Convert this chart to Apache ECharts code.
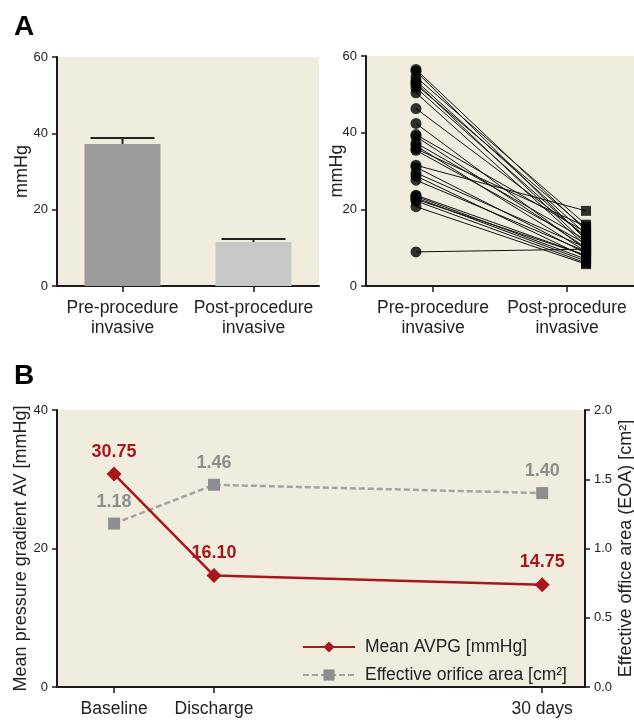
<!DOCTYPE html>
<html>
<head>
<meta charset="utf-8">
<script src="https://cdn.jsdelivr.net/npm/echarts@6/dist/echarts.min.js"></script>
<style>
html,body{margin:0;padding:0;background:#fff;}
#chart{width:634px;height:720px;}
</style>
</head>
<body>
<div id="chart"></div>
<script>
// ---- Panel A (left): bar chart ----
const categoriesA = ['Pre-procedure\ninvasive', 'Post-procedure\ninvasive'];
const barMeans = [37.2, 11.5];
const barErrors = [1.6, 0.8];
const yTicksA = [0, 20, 40, 60];

// ---- Panel A (right): paired values per patient ----
const preValues  = [56.5, 56.0, 54.5, 53.5, 53.0, 52.5, 51.7, 50.4, 46.3, 42.4, 39.5, 39.0, 37.3, 36.6, 35.8, 35.4, 31.5, 31.0, 29.5, 28.7, 27.6, 23.7, 23.4, 23.0, 22.6, 22.2, 20.7, 8.9];
const postValues = [14.5, 12.0, 16.0, 13.5, 11.0, 15.0, 12.5, 10.5, 13.0, 9.5, 14.0, 10.0, 12.0, 9.0, 15.5, 11.0, 19.6, 8.5, 10.0, 7.5, 9.0, 8.0, 7.0, 6.5, 8.0, 6.0, 5.7, 9.6];

// ---- Panel B: time course ----
const timepointDays = [0, 7, 30];
const timepointLabels = ['Baseline', 'Discharge', '30 days'];
const avpgValues = [30.75, 16.10, 14.75];
const eoaValues = [1.18, 1.46, 1.40];
const avpgName = 'Mean AVPG [mmHg]';
const eoaName = 'Effective orifice area [cm²]';

const BG = '#f1edde';
const AX = '#1a1a1a';
const SANS = '"Liberation Sans", Arial, sans-serif';
const RED = '#a9161b';

const axisLineStyle = { show: true, onZero: false, lineStyle: { color: AX, width: 2 } };
const tickStyle = { show: true, length: 5, lineStyle: { color: AX, width: 1.5 } };
const numLabel = { color: '#222', fontFamily: SANS, fontSize: 13, margin: 9 };

const chart = echarts.init(document.getElementById('chart'), null, { renderer: 'canvas' });

const pairSeries = preValues.map((pre, i) => ({
  type: 'line', xAxisIndex: 2, yAxisIndex: 1,
  data: [[0, pre], [1, postValues[i]]],
  symbol: 'none', silent: true, z: 2,
  lineStyle: { color: '#111', width: 1 }
}));

const catLabel = { interval: 0, color: '#222', fontFamily: SANS, fontSize: 17.5, lineHeight: 20, margin: 12 };
const nameStyle = { fontFamily: SANS, fontSize: 18, color: '#222' };

const option = {
  animation: false,
  backgroundColor: '#fff',
  title: [
    { text: 'A', left: 9, top: 8, textStyle: { fontFamily: SANS, fontWeight: 'bold', fontSize: 28, color: '#000' } },
    { text: 'B', left: 9, top: 357, textStyle: { fontFamily: SANS, fontWeight: 'bold', fontSize: 28, color: '#000' } }
  ],
  legend: {
    orient: 'vertical', left: 297, top: 633,
    itemWidth: 52, itemHeight: 14, itemGap: 10,
    data: [avpgName, eoaName],
    textStyle: { fontFamily: SANS, fontSize: 17.5, color: '#222', padding: [0, 0, 0, 5] }
  },
  grid: [
    { left: 57, top: 57, width: 262, height: 229, show: true, backgroundColor: BG, borderWidth: 0, outerBoundsMode: 'none', containLabel: false },
    { left: 366, top: 56, width: 268, height: 230, show: true, backgroundColor: BG, borderWidth: 0, outerBoundsMode: 'none', containLabel: false },
    { left: 57, top: 410, width: 528, height: 277, show: true, backgroundColor: BG, borderWidth: 0, outerBoundsMode: 'none', containLabel: false }
  ],
  xAxis: [
    { type: 'category', gridIndex: 0, data: categoriesA, axisLine: axisLineStyle, axisTick: Object.assign({}, tickStyle, { alignWithLabel: true, length: 6 }),
      axisLabel: catLabel },
    { type: 'category', gridIndex: 1, data: categoriesA, axisLine: axisLineStyle, axisTick: Object.assign({}, tickStyle, { alignWithLabel: true, length: 6 }),
      axisLabel: catLabel },
    { type: 'value', gridIndex: 1, min: -0.294, max: 1.282, show: false },
    { type: 'value', gridIndex: 2, min: -4, max: 33, axisLine: axisLineStyle,
      axisTick: Object.assign({}, tickStyle, { length: 6, customValues: timepointDays }),
      splitLine: { show: false },
      axisLabel: { customValues: timepointDays, color: '#222', fontFamily: SANS, fontSize: 17.5, margin: 13,
        formatter: v => timepointLabels[timepointDays.indexOf(Math.round(v))] || '' } }
  ],
  yAxis: [
    { type: 'value', gridIndex: 0, min: yTicksA[0], max: yTicksA[yTicksA.length - 1], interval: 20,
      axisLine: axisLineStyle, axisTick: tickStyle, splitLine: { show: false }, axisLabel: numLabel,
      name: 'mmHg', nameLocation: 'middle', nameGap: 26, nameMoveOverlap: false, nameTextStyle: nameStyle },
    { type: 'value', gridIndex: 1, min: yTicksA[0], max: yTicksA[yTicksA.length - 1], interval: 20,
      axisLine: axisLineStyle, axisTick: tickStyle, splitLine: { show: false }, axisLabel: numLabel,
      name: 'mmHg', nameLocation: 'middle', nameGap: 20, nameMoveOverlap: false, nameTextStyle: nameStyle },
    { type: 'value', gridIndex: 2, min: 0, max: 40, interval: 20,
      axisLine: axisLineStyle, axisTick: tickStyle, splitLine: { show: false }, axisLabel: numLabel,
      name: 'Mean pressure gradient AV [mmHg]', nameLocation: 'middle', nameGap: 27, nameMoveOverlap: false, nameTextStyle: nameStyle },
    { type: 'value', gridIndex: 2, position: 'right', min: 0, max: 2, interval: 0.5,
      axisLine: axisLineStyle, axisTick: tickStyle, splitLine: { show: false },
      axisLabel: Object.assign({}, numLabel, { formatter: v => v.toFixed(1) }),
      name: 'Effective office area (EOA) [cm²]', nameLocation: 'middle', nameRotate: 90, nameGap: 32, nameMoveOverlap: false,
      nameTextStyle: nameStyle }
  ],
  series: [
    { type: 'bar', xAxisIndex: 0, yAxisIndex: 0, barWidth: 76, silent: true,
      data: barMeans.map((v, i) => ({ value: v, itemStyle: { color: i === 0 ? '#9b9b9b' : '#c6c7c7' } })) },
    { type: 'custom', xAxisIndex: 0, yAxisIndex: 0, silent: true, z: 3,
      data: barMeans.map((v, i) => [i, v, v + barErrors[i]]),
      renderItem: (params, api) => {
        const base = api.coord([api.value(0), api.value(1)]);
        const top = api.coord([api.value(0), api.value(2)]);
        const hw = 32;
        const st = { stroke: '#222', lineWidth: 2 };
        return { type: 'group', children: [
          { type: 'line', shape: { x1: base[0], y1: base[1], x2: top[0], y2: top[1] }, style: st },
          { type: 'line', shape: { x1: top[0] - hw, y1: top[1], x2: top[0] + hw, y2: top[1] }, style: st }
        ] };
      } },
    ...pairSeries,
    { type: 'scatter', xAxisIndex: 2, yAxisIndex: 1, symbol: 'circle', symbolSize: 11, z: 4, silent: true,
      itemStyle: { color: '#000' }, data: preValues.map(v => [0, v]) },
    { type: 'scatter', xAxisIndex: 2, yAxisIndex: 1, symbol: 'rect', symbolSize: 10, z: 4, silent: true,
      itemStyle: { color: '#000' }, data: postValues.map(v => [1, v]) },
    { name: eoaName, type: 'line', xAxisIndex: 3, yAxisIndex: 3,
      data: timepointDays.map((d, i) => [d, eoaValues[i]]),
      symbol: 'rect', symbolSize: 12, z: 5,
      itemStyle: { color: '#8e8e8e' },
      lineStyle: { color: '#a3a3a3', width: 2.5, type: [6, 3] },
      label: { show: true, position: 'top', distance: 7, color: '#8e8e8e', fontFamily: SANS, fontWeight: 'bold', fontSize: 18,
        formatter: p => p.value[1].toFixed(2) } },
    { name: avpgName, type: 'line', xAxisIndex: 3, yAxisIndex: 2,
      data: timepointDays.map((d, i) => [d, avpgValues[i]]),
      symbol: 'diamond', symbolSize: 15, z: 6,
      itemStyle: { color: RED },
      lineStyle: { color: RED, width: 2.5 },
      label: { show: true, position: 'top', distance: 6, color: RED, fontFamily: SANS, fontWeight: 'bold', fontSize: 18,
        formatter: p => p.value[1].toFixed(2) } }
  ]
};
chart.setOption(option);
</script>
</body>
</html>
